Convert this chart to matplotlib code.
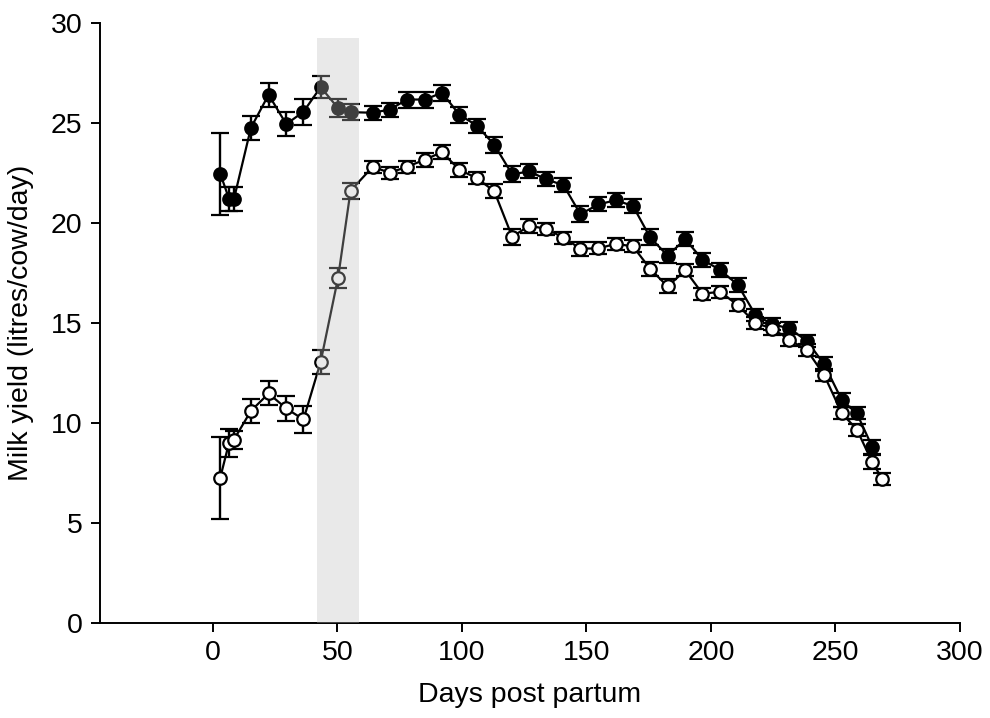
import matplotlib
matplotlib.use('Agg')
import matplotlib.pyplot as plt

plt.rcParams['font.family'] = ['Liberation Sans', 'DejaVu Sans']

# days post partum (shared by both groups, open group has one extra late point)
days = [3, 6.5, 8.5, 15.3, 22.4, 29.5, 36.4, 43.3, 50.3, 55.3, 64.2, 71, 78, 85.2, 92,
        99, 106, 113, 120.2, 127, 133.9, 140.8, 147.6, 154.8, 161.8, 168.7, 175.6,
        182.6, 189.7, 196.6, 203.8, 210.8, 217.8, 224.6, 231.5, 238.6, 245.5, 252.6,
        258.6, 264.7, 268.7]

filled_y = [22.45, 21.2, 21.2, 24.75, 26.4, 24.93, 25.55, 26.78, 25.73, 25.53, 25.5,
            25.66, 26.16, 26.16, 26.5, 25.4, 24.86, 23.9, 22.42, 22.57, 22.17, 21.88,
            20.43, 20.92, 21.13, 20.84, 19.27, 18.36, 19.18, 18.16, 17.63, 16.9, 15.41,
            14.93, 14.72, 14.09, 12.92, 11.13, 10.47, 8.82]
filled_err = [2.05, 0.6, 0.6, 0.6, 0.6, 0.6, 0.65, 0.55, 0.45, 0.4, 0.35, 0.35, 0.4,
              0.4, 0.4, 0.4, 0.35, 0.4, 0.4, 0.35, 0.35, 0.35, 0.4, 0.35, 0.35, 0.35,
              0.4, 0.35, 0.35, 0.35, 0.35, 0.35, 0.3, 0.3, 0.3, 0.3, 0.35, 0.35, 0.3, 0.35]

open_y = [7.27, 9.0, 9.17, 10.6, 11.47, 10.72, 10.17, 13.05, 17.26, 21.6, 22.8, 22.5,
          22.8, 23.16, 23.53, 22.65, 22.23, 21.58, 19.3, 19.85, 19.7, 19.25, 18.71,
          18.72, 18.95, 18.82, 17.7, 16.82, 17.62, 16.46, 16.55, 15.88, 15.0, 14.71,
          14.16, 13.63, 12.38, 10.47, 9.67, 8.05, 7.22]
open_err = [2.05, 0.7, 0.45, 0.6, 0.6, 0.62, 0.68, 0.6, 0.5, 0.4, 0.3, 0.3, 0.3, 0.35,
            0.35, 0.35, 0.3, 0.35, 0.4, 0.35, 0.3, 0.3, 0.35, 0.3, 0.3, 0.3, 0.35, 0.35,
            0.3, 0.3, 0.3, 0.3, 0.3, 0.3, 0.3, 0.3, 0.3, 0.3, 0.3, 0.35, 0.3]

# shaded period
shade_start, shade_end, shade_top = 42, 58.8, 29.25

fig = plt.figure(figsize=(9.9, 7.18), dpi=100)
ax = fig.add_axes([100 / 990, 1 - 623 / 718, 860 / 990, (623 - 22.7) / 718])

n = len(filled_y)
ax.errorbar(days[:n], filled_y, yerr=filled_err, color='black', lw=1.6, marker='o',
            ms=9, mfc='black', mec='black', mew=1.6, capsize=6.5, capthick=1.8,
            elinewidth=1.7, zorder=3)
ax.errorbar(days, open_y, yerr=open_err, color='black', lw=1.6, marker='o',
            ms=9, mfc='white', mec='black', mew=1.6, capsize=6.5, capthick=1.8,
            elinewidth=1.7, zorder=4)

ax.axvspan(shade_start, shade_end, ymin=0, ymax=shade_top / 30,
           color=(0.744, 0.744, 0.744), alpha=0.336, lw=0, zorder=10)

ax.set_xlim(-45.3, 300)
ax.set_ylim(0, 30)
ax.set_xticks([0, 50, 100, 150, 200, 250, 300])
ax.set_yticks([0, 5, 10, 15, 20, 25, 30])
ax.spines['top'].set_visible(False)
ax.spines['right'].set_visible(False)
for s in ['left', 'bottom']:
    ax.spines[s].set_linewidth(1.4)
ax.tick_params(direction='out', length=6.5, width=1.4, labelsize=20.5, pad=6)
ax.set_xlabel('Days post partum', fontsize=20.5, labelpad=11)
ax.set_ylabel('Milk yield (litres/cow/day)', fontsize=20.5, labelpad=12)

fig.savefig('out.png', dpi=100)
